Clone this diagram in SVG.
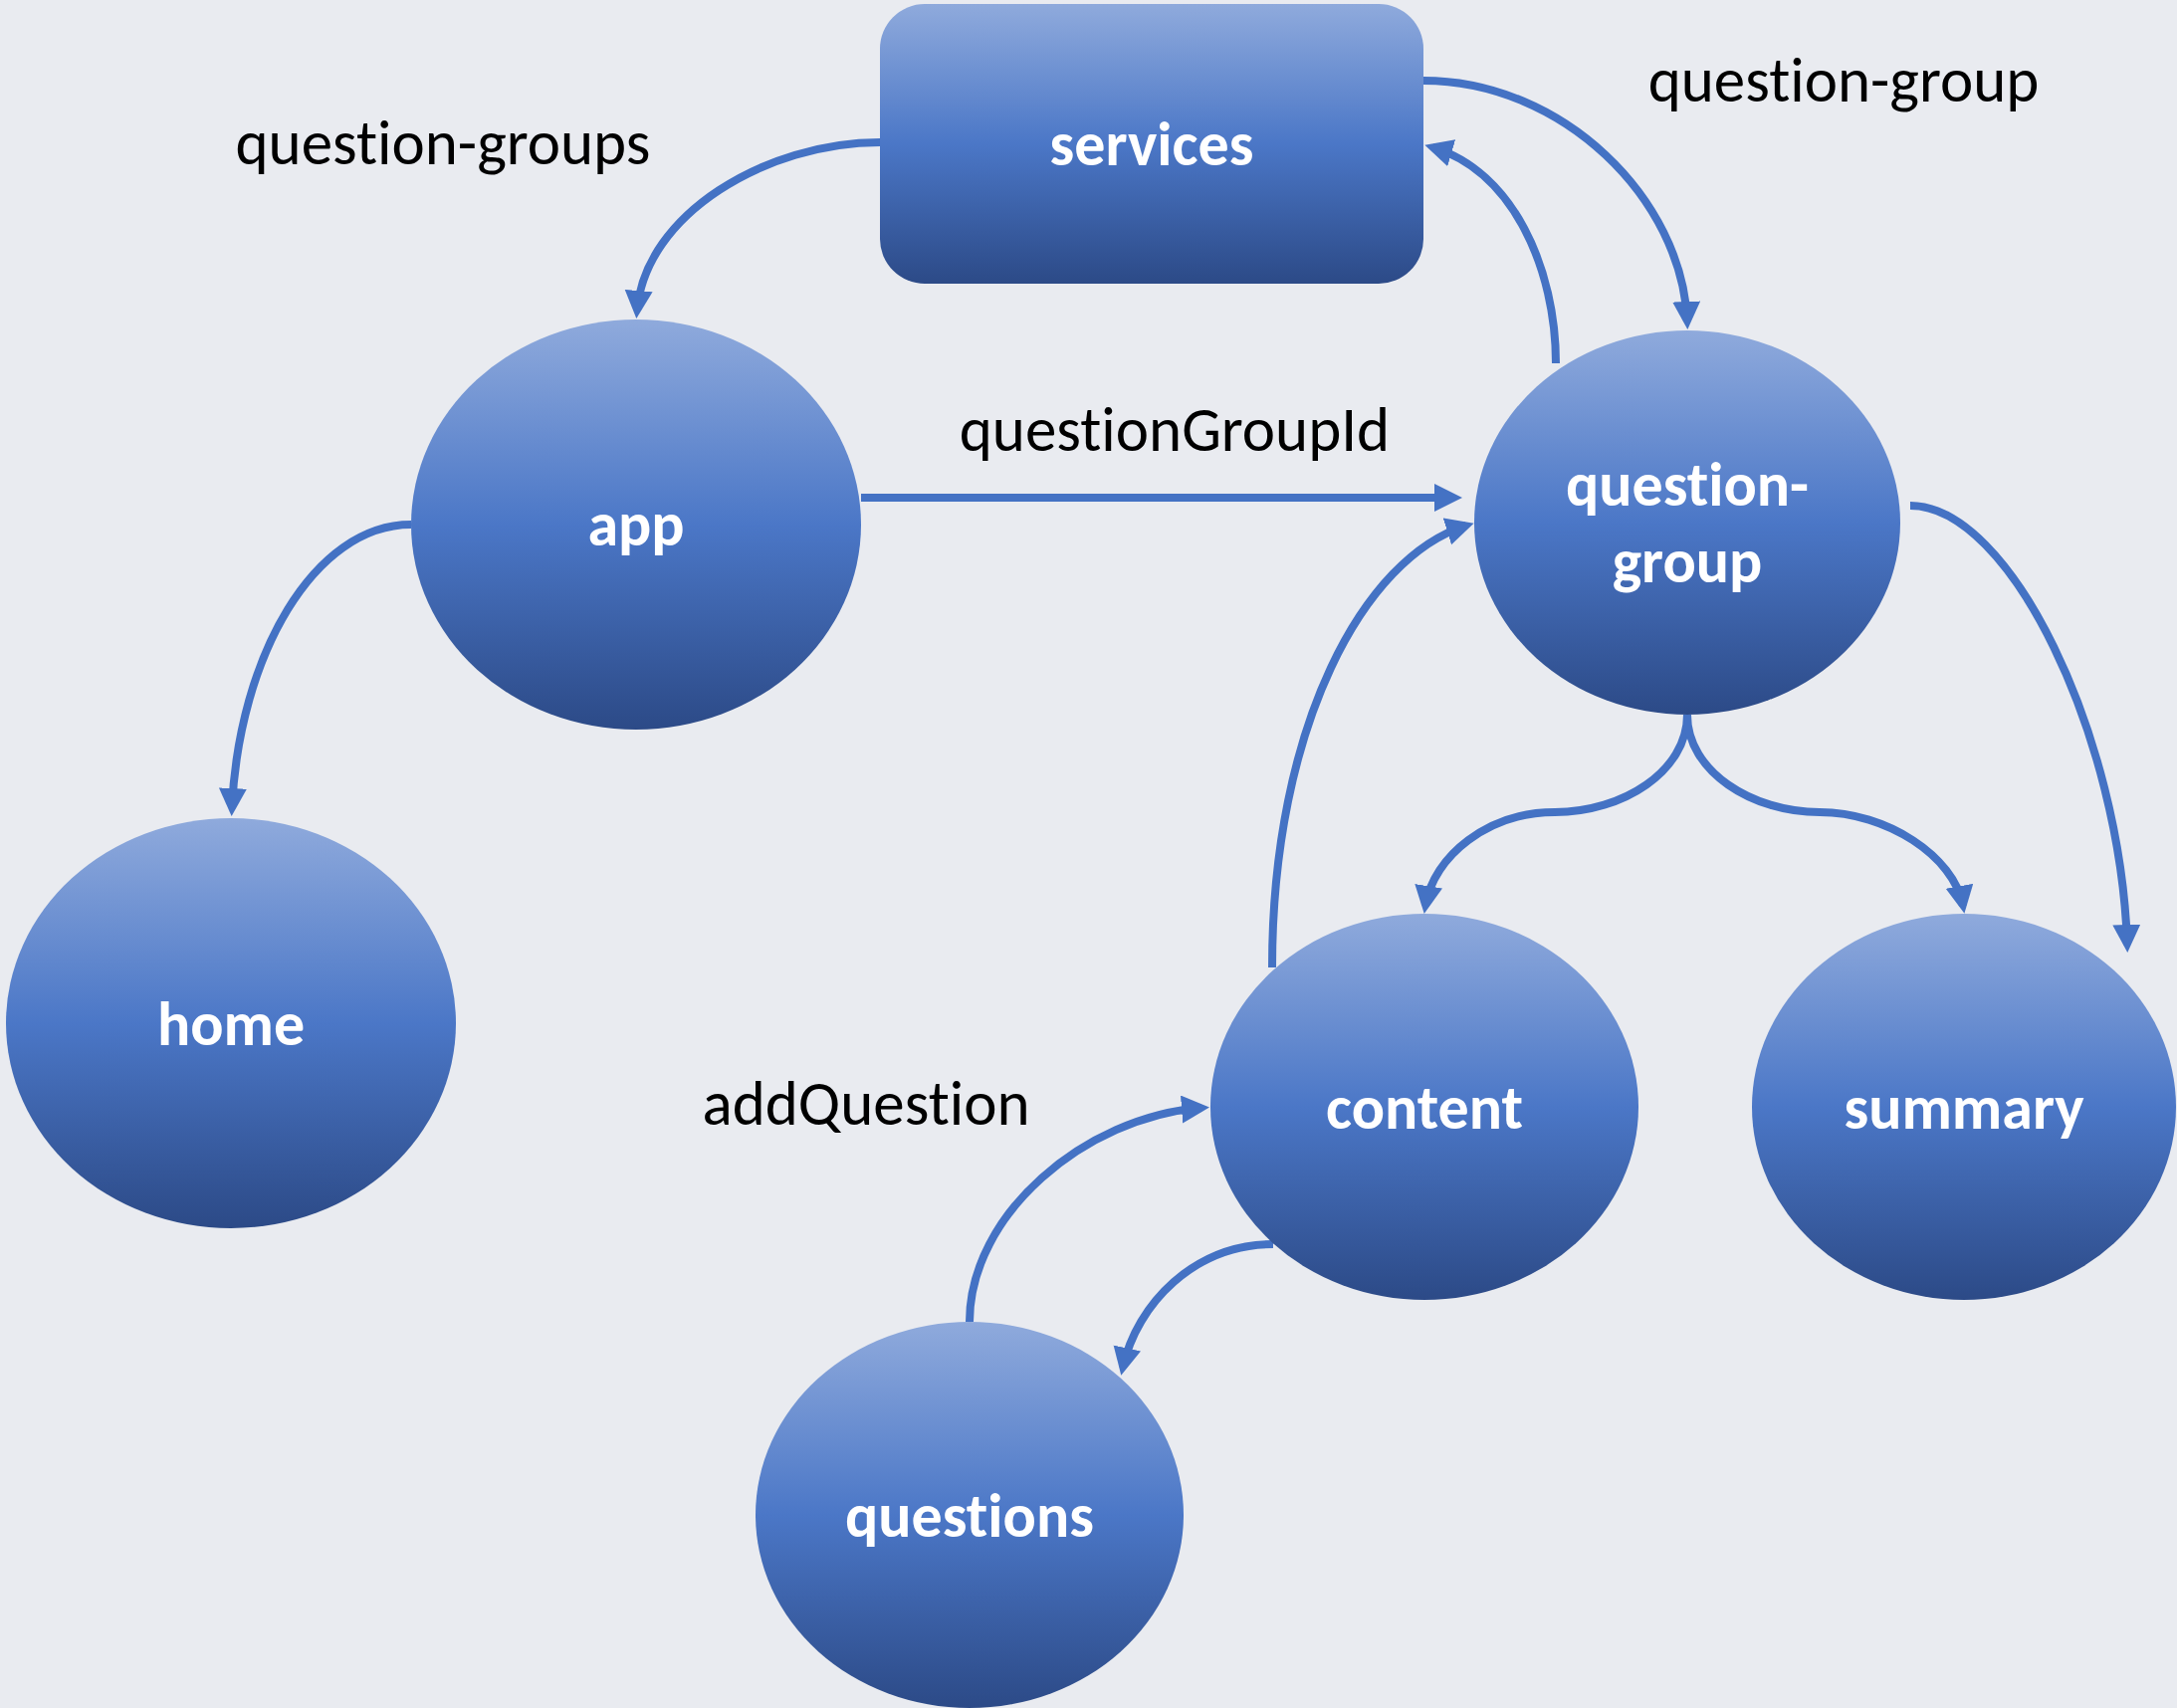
<svg xmlns="http://www.w3.org/2000/svg" width="2187" height="1716" viewBox="0 0 2187 1716">
<defs>
<linearGradient id="nodeGrad" x1="0" y1="0" x2="0" y2="1">
<stop offset="0" stop-color="#8FAADC"/>
<stop offset="0.5" stop-color="#4B77C7"/>
<stop offset="1" stop-color="#2C4A87"/>
</linearGradient>
<marker id="arr" markerUnits="userSpaceOnUse" markerWidth="30" markerHeight="30" refX="20" refY="14" orient="auto">
<path d="M0,0 L28,14 L0,28 z" fill="#4472C4"/>
</marker>
<style>
.node{fill:url(#nodeGrad);}
.nl{font-family:Carlito,Calibri,Lato,"Open Sans",sans-serif;font-weight:bold;font-size:62px;fill:#FFFFFF;text-anchor:middle;font-variant-ligatures:none;font-feature-settings:"liga" 0,"clig" 0,"dlig" 0;}
.el{font-family:Carlito,Calibri,Lato,"Open Sans",sans-serif;font-size:63px;fill:#000000;text-anchor:middle;font-variant-ligatures:none;font-feature-settings:"liga" 0,"clig" 0,"dlig" 0;}
.c{fill:none;stroke:#4472C4;stroke-width:8;marker-end:url(#arr);}
</style>
</defs>
<rect x="0" y="0" width="2187" height="1716" fill="#E9EBF0"/>
<g id="connectors">
<path class="c" d="M884,143 C770,143 648,215 640,312"/>
<path class="c" d="M1430,81 C1570,81 1690,200 1695,323"/>
<path class="c" d="M1563,365 C1563,270 1520,172 1439,148"/>
<path class="c" d="M865,500 L1461,500"/>
<path class="c" d="M1278,972 C1278,730 1370,560 1473,528"/>
<path class="c" d="M1695,718 C1695,775 1630,816 1562,816 C1495,816 1440,860 1432,910"/>
<path class="c" d="M1695,718 C1695,775 1760,816 1828,816 C1895,816 1963,860 1972,910"/>
<path class="c" d="M1919,508 C2020,508 2130,740 2137,949"/>
<path class="c" d="M413,527 C315,527 240,660 233,812"/>
<path class="c" d="M1279,1250 C1200,1250 1142,1310 1128,1374"/>
<path class="c" d="M974,1328 C974,1220 1090,1122 1207,1113"/>
</g>
<g id="edge-labels">
<text class="el" x="445" y="165">question-groups</text>
<text class="el" x="1852" y="102">question-group</text>
<text class="el" x="1180" y="453">questionGroupId</text>
<text class="el" x="870" y="1130">addQuestion</text>
</g>
<g id="services">
<rect class="node" x="884" y="4" width="546" height="281" rx="45" ry="45"/>
<text class="nl" x="1157" y="166">services</text>
</g>
<g id="app">
<ellipse class="node" cx="639" cy="527" rx="226" ry="206"/>
<text class="nl" x="639" y="548">app</text>
</g>
<g id="question-group">
<ellipse class="node" cx="1695" cy="525" rx="214" ry="193"/>
<text class="nl" x="1695" y="508">question-</text>
<text class="nl" x="1695" y="585">group</text>
</g>
<g id="home">
<ellipse class="node" cx="232" cy="1028" rx="226" ry="206"/>
<text class="nl" x="232" y="1050">home</text>
</g>
<g id="content">
<ellipse class="node" cx="1431" cy="1112" rx="215" ry="194"/>
<text class="nl" x="1431" y="1134">content</text>
</g>
<g id="summary">
<ellipse class="node" cx="1973" cy="1112" rx="213" ry="194"/>
<text class="nl" x="1973" y="1134">summary</text>
</g>
<g id="questions">
<ellipse class="node" cx="974" cy="1522" rx="215" ry="194"/>
<text class="nl" x="974" y="1544">questions</text>
</g>
</svg>
